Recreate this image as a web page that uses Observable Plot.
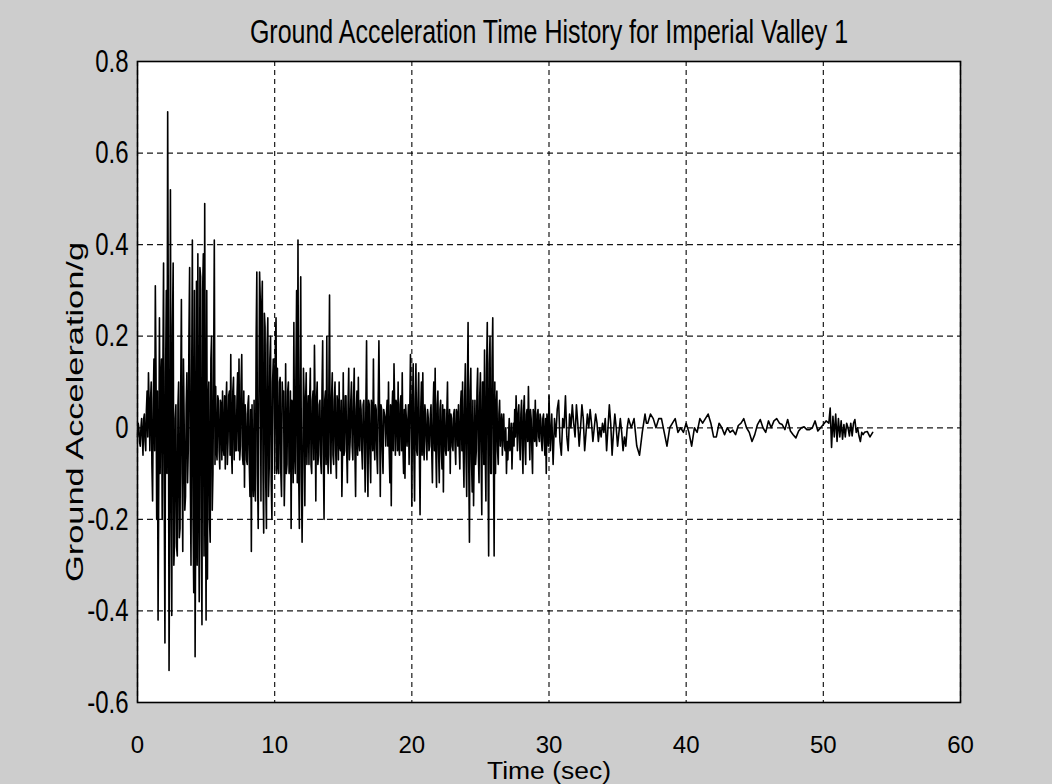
<!DOCTYPE html>
<html><head><meta charset="utf-8">
<script src="https://cdn.jsdelivr.net/npm/d3@7"></script>
<script src="https://cdn.jsdelivr.net/npm/@observablehq/plot@0.6"></script>
<style>
html,body{margin:0;padding:0;background:#cdcdcd;}
#chart{width:1052px;height:784px;}
</style></head><body><div id="chart"></div>
<script>
const title = "Ground Acceleration Time History for Imperial Valley 1";
const xLabel = "Time (sec)";
const yLabel = "Ground Acceleration/g";
const xTicks = [0, 10, 20, 30, 40, 50, 60];
const yTicks = [-0.6, -0.4, -0.2, 0, 0.2, 0.4, 0.6, 0.8];

// [time (s), acceleration (g)] read from the record
const strongPhase = [
[0.0,-0.02],[0.1,0.00],[0.2,-0.04],[0.3,0.02],[0.4,-0.06],[0.5,0.03],[0.6,-0.05],[0.7,0.08],[0.8,0.12],[0.9,-0.05],
[1.0,0.10],[1.1,-0.16],[1.2,0.15],[1.3,0.31],[1.4,-0.20],[1.5,-0.42],[1.6,0.24],[1.7,0.10],[1.8,-0.20],[1.9,0.36],
[2.0,-0.47],[2.1,0.30],[2.2,0.69],[2.3,-0.53],[2.4,0.52],[2.5,-0.41],[2.6,0.36],[2.7,-0.25],[2.8,0.05],[2.9,-0.28],
[3.0,0.10],[3.1,-0.22],[3.2,0.28],[3.3,-0.27],[3.4,0.02],[3.5,-0.15],[3.6,0.12],[3.7,-0.05],[3.8,0.35],[3.9,-0.30],
[4.0,0.41],[4.1,-0.36],[4.2,-0.50],[4.3,0.32],[4.4,0.38],[4.5,-0.38],[4.6,0.33],[4.7,-0.43],[4.8,0.38],[4.9,0.49],
[5.0,-0.42],[5.1,-0.33],[5.2,0.10],[5.3,-0.25],[5.4,0.20],[5.5,-0.10],[5.6,0.41],[5.7,0.09],[5.8,-0.07],[5.9,0.06],
[6.0,-0.09],[6.1,0.05],[6.2,0.08],[6.3,-0.06],[6.4,-0.09],[6.5,0.10],[6.6,-0.03],[6.7,0.08],[6.8,0.16],[6.9,-0.10],
[7.0,0.11],[7.1,0.07],[7.2,-0.05],[7.3,0.12],[7.4,0.15],[7.5,-0.04],[7.6,0.16],[7.7,-0.08],[7.8,-0.13],[7.9,0.03],
[8.0,-0.08],[8.1,0.07],[8.2,-0.15],[8.3,-0.27],[8.4,-0.10],[8.5,0.06],[8.6,-0.16],[8.7,0.34],[8.8,-0.22],[8.9,0.34],
[9.0,-0.16],[9.1,0.32],[9.2,-0.23],[9.3,0.22],[9.4,-0.22],[9.5,0.24],[9.6,-0.09],[9.7,0.20],[9.8,-0.20],[9.9,0.15],
[10.0,-0.10],[10.1,0.24],[10.2,0.13],[10.3,-0.10],[10.4,0.11],[10.5,-0.15],[10.6,0.05],[10.7,-0.17],[10.8,0.14],[10.9,-0.08],
[11.0,0.10],[11.1,-0.08],[11.2,-0.22],[11.3,0.05],[11.4,0.23],[11.5,-0.10],[11.6,0.30],[11.7,0.41],[11.8,-0.22],[11.9,0.33],
[12.0,-0.25],[12.1,0.13],[12.2,-0.17],[12.3,0.12],[12.4,0.02],[12.5,-0.08],[12.6,0.13],[12.7,-0.10],[12.8,0.08],[12.9,0.18],
[13.0,-0.16],[13.1,0.10],[13.2,-0.06],[13.3,0.06],[13.4,-0.10],[13.5,0.19],[13.6,-0.20],[13.7,0.08],[13.8,0.20],[13.9,-0.10],
[14.0,0.29],[14.1,-0.10],[14.2,0.12],[14.3,-0.08],[14.4,0.10],[14.5,-0.11],[14.6,0.05],[14.7,0.10],[14.8,-0.05],[14.9,-0.15]
];
const middlePhase = [
[15.0,0.12],[15.1,-0.05],[15.2,0.07],[15.3,-0.12],[15.4,0.13],[15.5,-0.03],[15.6,0.10],[15.7,-0.07],[15.8,0.13],[15.9,-0.15],
[16.0,0.08],[16.1,0.11],[16.2,-0.05],[16.3,0.04],[16.4,-0.09],[16.5,0.06],[16.6,-0.14],[16.7,0.19],[16.8,-0.15],[16.9,0.05],
[17.0,-0.12],[17.1,0.03],[17.2,0.15],[17.3,-0.07],[17.4,0.04],[17.5,-0.10],[17.6,0.19],[17.7,-0.15],[17.8,0.04],[17.9,-0.10],
[18.0,0.03],[18.1,-0.04],[18.2,0.06],[18.3,0.10],[18.4,-0.12],[18.5,-0.17],[18.6,0.08],[18.7,0.14],[18.8,-0.06],[18.9,0.05],
[19.0,0.10],[19.1,-0.06],[19.2,0.07],[19.3,0.12],[19.4,-0.10],[19.5,-0.11],[19.6,0.02],[19.7,0.00],[19.8,-0.08],[19.9,0.16],
[20.0,-0.17],[20.1,0.14],[20.2,-0.16],[20.3,0.14],[20.4,-0.06],[20.5,0.12],[20.6,-0.19],[20.7,0.10],[20.8,0.12],[20.9,-0.07],
[21.0,0.03],[21.1,-0.07],[21.2,0.02],[21.3,-0.04],[21.4,0.05],[21.5,-0.12],[21.6,0.10],[21.7,0.13],[21.8,-0.13],[21.9,0.08],
[22.0,-0.12],[22.1,0.06],[22.2,-0.09],[22.3,-0.14],[22.4,0.04],[22.5,-0.06],[22.6,0.10],[22.7,-0.04],[22.8,-0.10],[22.9,0.02],
[23.0,-0.05],[23.1,0.04],[23.2,-0.08],[23.3,0.03],[23.4,0.05],[23.5,-0.09],[23.6,0.08],[23.7,0.10],[23.8,-0.13],[23.9,0.14],
[24.0,-0.15],[24.1,0.23],[24.2,-0.25],[24.3,0.13],[24.4,-0.14],[24.5,-0.17],[24.6,0.06],[24.7,-0.05],[24.8,0.13],[24.9,-0.12],
[25.0,0.12],[25.1,-0.19],[25.2,0.10],[25.3,0.17],[25.4,-0.16],[25.5,0.23],[25.6,-0.28],[25.7,0.20],[25.8,-0.10],[25.9,0.24],
[26.0,-0.28],[26.1,-0.10],[26.2,0.08],[26.3,-0.08],[26.4,0.06],[26.5,0.00],[26.6,-0.06],[26.7,0.03],[26.8,-0.05],[26.9,-0.10],
[27.0,-0.07],[27.1,0.02],[27.2,-0.04],[27.3,-0.09],[27.4,0.01],[27.5,0.04],[27.6,0.07],[27.7,-0.05],[27.8,0.05],[27.9,-0.07],
[28.0,0.06],[28.1,-0.10],[28.2,0.07],[28.3,-0.08],[28.4,0.04],[28.5,0.09],[28.6,-0.07],[28.7,0.02],[28.8,-0.10],[28.9,0.03],
[29.0,0.06],[29.1,-0.04],[29.2,0.04],[29.3,-0.03],[29.4,0.02],[29.5,-0.05],[29.6,0.03],[29.7,-0.06],[29.8,-0.10],[29.9,0.01]
];
// in-between samples of the dense (blackened) band of the strong motion
const denseBand = [
[0.05,0.01],[0.15,-0.03],[0.25,0.00],[0.35,-0.02],[0.45,0.02],[0.55,-0.03],[0.65,0.04],[0.75,-0.02],[0.85,0.05],[0.95,0.06],
[1.05,-0.08],[1.15,0.06],[1.25,-0.05],[1.35,0.12],[1.45,0.08],[1.55,-0.12],[1.65,-0.10],[1.75,0.15],[1.85,0.12],[1.95,-0.15],
[2.05,0.12],[2.15,-0.10],[2.25,0.20],[2.35,-0.20],[2.45,-0.05],[2.55,0.22],[2.65,-0.30],[2.75,0.02],[2.85,-0.26],[2.95,0.05],
[3.05,-0.24],[3.15,0.08],[3.25,-0.10],[3.35,0.15],[3.45,-0.18],[3.55,0.05],[3.65,-0.12],[3.75,0.20],[3.85,-0.10],[3.95,0.10],
[4.05,-0.20],[4.15,0.30],[4.25,-0.15],[4.35,-0.30],[4.45,-0.10],[4.55,0.35],[4.65,-0.25],[4.75,0.30],[4.85,-0.28],[4.95,-0.10],
[5.05,0.30],[5.15,0.05],[5.25,-0.20],[5.35,0.15],[5.45,-0.18],[5.55,0.12],[5.65,-0.08],[5.75,-0.05],[5.85,0.07],[5.95,-0.05],
[6.05,0.06],[6.15,-0.07],[6.25,-0.04],[6.35,0.07],[6.45,0.05],[6.55,-0.08],[6.65,0.07],[6.75,-0.06],[6.85,-0.05],[6.95,0.08],
[7.05,-0.07],[7.15,-0.05],[7.25,0.06],[7.35,-0.05],[7.45,-0.07],[7.55,0.10],[7.65,-0.06],[7.75,0.08],[7.85,0.05],[7.95,-0.07],
[8.05,0.05],[8.15,-0.08],[8.25,0.04],[8.35,0.05],[8.45,-0.15],[8.55,-0.12],[8.65,0.20],[8.75,-0.10],[8.85,0.05],[8.95,0.28],
[9.05,0.25],[9.15,-0.10],[9.25,0.25],[9.35,-0.12],[9.45,0.18],[9.55,-0.15],[9.65,0.15],[9.75,-0.12],[9.85,0.10],[9.95,0.12],
[10.05,0.18],[10.15,-0.10],[10.25,-0.08],[10.35,0.10],[10.45,-0.10],[10.55,0.10],[10.65,0.08],[10.75,-0.08],[10.85,-0.10],[10.95,0.08],
[11.05,-0.10],[11.15,0.08],[11.25,0.06],[11.35,-0.12],[11.45,-0.05],[11.55,0.12],[11.65,-0.12],[11.75,-0.10],[11.85,0.10],[11.95,-0.10],
[12.05,-0.08],[12.15,0.06],[12.25,0.05],[12.35,-0.08],[12.45,0.07],[12.55,0.06],[12.65,-0.08],[12.75,0.06],[12.85,-0.07],[12.95,0.05],
[13.05,0.06],[13.15,-0.08],[13.25,0.05],[13.35,-0.07],[13.45,0.08],[13.55,-0.06],[13.65,0.06],[13.75,-0.08],[13.85,-0.05],[13.95,0.08],
[14.05,-0.06],[14.15,0.07],[14.25,-0.06],[14.35,0.06],[14.45,-0.05],[14.55,0.07],[14.65,-0.07],[14.75,-0.04],[14.85,0.06],[14.95,-0.05],
[15.05,-0.06],[15.15,0.07],[15.25,-0.05],[15.35,0.05],[15.45,-0.07],[15.55,0.06],[15.65,-0.04],[15.75,0.06],[15.85,-0.05],[15.95,0.04],
[16.05,-0.06],[16.15,-0.03],[16.25,0.06],[16.35,-0.05],[16.45,0.05],[16.55,-0.04],[16.65,0.05],[16.75,-0.05],[16.85,0.06],[16.95,-0.06],
[17.05,0.06],[17.15,-0.05],[17.25,-0.03],[17.35,0.05],[17.45,-0.06],[17.55,0.06],[17.65,0.03],[17.75,0.05],[17.85,-0.05],[17.95,0.04],
[18.05,0.02],[18.15,0.03],[18.25,-0.04],[18.35,-0.05],[18.45,0.05],[18.55,0.03],[18.65,-0.05],[18.75,0.05],[18.85,0.06],[18.95,-0.05],
[19.05,-0.04],[19.15,0.05],[19.25,-0.05],[19.35,-0.04],[19.45,0.04],[19.55,0.05],[19.65,-0.04],[19.75,0.05],[19.85,0.04],[19.95,0.03],
[20.05,0.05],[20.15,-0.06],[20.25,0.06],[20.35,-0.05],[20.45,0.06],[20.55,-0.05],[20.65,0.04],[20.75,-0.06],[20.85,-0.04],[20.95,0.05],
[21.05,-0.03],[21.15,0.04],[21.25,-0.05],[21.35,0.03],[21.45,-0.05],[21.55,0.04],[21.65,-0.05],[21.75,-0.05],[21.85,0.05],[21.95,-0.05],
[22.05,0.04],[22.15,-0.05],[22.25,0.05],[22.35,0.04],[22.45,-0.05],[22.55,0.03],[22.65,-0.05],[22.75,0.04],[22.85,0.03],[22.95,-0.04],
[23.05,0.03],[23.15,-0.04],[23.25,0.04],[23.35,-0.04],[23.45,-0.04],[23.55,0.05],[23.65,-0.05],[23.75,-0.05],[23.85,0.06],[23.95,-0.06],
[24.05,0.08],[24.15,-0.08],[24.25,0.08],[24.35,-0.07],[24.45,0.06],[24.55,-0.05],[24.65,-0.08],[24.75,0.08],[24.85,-0.06],[24.95,0.07],
[25.05,-0.06],[25.15,0.10],[25.25,-0.08],[25.35,-0.05],[25.45,0.12],[25.55,-0.05],[25.65,0.14],[25.75,-0.10],[25.85,0.15],[25.95,-0.05],
[26.05,0.10],[26.15,0.04],[26.25,-0.05],[26.35,0.03],[26.45,-0.04],[26.55,0.03],[26.65,0.01],[26.75,-0.04],[26.85,0.00],[26.95,-0.03],
[27.05,-0.02],[27.15,-0.05],[27.25,0.01],[27.35,-0.03],[27.45,-0.04],[27.55,-0.02],[27.65,0.02],[27.75,0.03],[27.85,-0.03],[27.95,0.03],
[28.05,-0.04],[28.15,0.04],[28.25,-0.04],[28.35,0.03],[28.45,-0.03],[28.55,0.00],[28.65,0.04],[28.75,-0.05],[28.85,0.04],[28.95,-0.03],
[29.05,-0.02],[29.15,0.03],[29.25,-0.02],[29.35,0.03],[29.45,-0.03],[29.55,0.02],[29.65,-0.03],[29.75,0.02],[29.85,0.03],[29.95,-0.04]
];
const coda = [
[30.0,0.07],[30.1,-0.05],[30.2,0.03],[30.3,-0.08],[30.4,0.02],[30.5,-0.02],[30.6,0.04],[30.7,0.06],[30.8,-0.03],[30.9,-0.06],
[31.0,0.02],[31.1,0.00],[31.2,0.07],[31.3,-0.02],[31.4,-0.05],[31.5,0.03],[31.6,0.00],[31.7,0.05],[31.8,0.01],[31.9,-0.02],
[32.0,0.05],[32.1,0.01],[32.2,-0.04],[32.3,0.00],[32.4,0.05],[32.5,0.02],[32.6,-0.05],[32.7,-0.01],[32.8,0.03],[32.9,0.00],
[33.0,0.04],[33.1,0.01],[33.2,-0.03],[33.3,0.00],[33.4,0.03],[33.5,0.01],[33.6,-0.03],[33.7,0.00],[33.8,-0.02],[33.9,0.01],
[34.0,-0.01],[34.1,0.02],[34.2,-0.05],[34.3,0.00],[34.4,0.05],[34.5,0.01],[34.6,-0.06],[34.7,-0.01],[34.8,0.03],[34.9,0.00],
[35.0,-0.04],[35.1,-0.01],[35.2,0.02],[35.3,-0.01],[35.4,-0.05],[35.5,-0.02],[35.6,-0.04],[35.7,0.00],[35.8,0.02],[35.9,0.01],
[36.0,0.00],[36.2,0.02],[36.3,-0.01],[36.4,-0.04],[36.6,-0.06],[36.8,-0.01],[37.0,0.03],[37.1,0.01],[37.2,0.01],[37.4,0.03],
[37.6,0.02],[37.8,0.00],[38.0,0.02],[38.2,0.02],[38.4,-0.01],[38.6,-0.04],[38.8,0.00],[39.0,0.01],[39.2,0.02],[39.4,-0.01],
[39.6,0.00],[39.8,-0.01],[40.0,0.01],[40.2,-0.01],[40.4,-0.04],[40.6,0.00],[40.8,-0.01],[41.0,0.02],[41.2,0.01],[41.4,0.02],
[41.6,0.03],[41.8,0.01],[42.0,-0.02],[42.2,-0.02],[42.4,0.01],[42.6,0.00],[42.8,-0.015],[43.0,0.00],[43.2,-0.01],[43.4,-0.005],
[43.6,-0.015],[43.8,0.005],[44.0,0.01],[44.2,0.02],[44.4,0.00],[44.6,-0.01],[44.8,-0.03],[45.0,-0.015],[45.2,0.007],[45.4,0.018],
[45.6,0.00],[45.8,-0.01],[46.0,0.015],[46.2,0.00],[46.4,0.015],[46.6,0.02],[46.8,0.01],[47.0,0.007],[47.2,-0.004],[47.4,0.018],
[47.6,-0.007],[47.8,-0.015],[48.0,-0.022],[48.2,-0.007],[48.4,0.00],[48.6,0.002],[48.8,-0.004],[49.0,-0.004],[49.2,0.00],[49.4,0.015],
[49.6,-0.007],[49.8,0.00],[50.0,0.007],[50.2,0.015],[50.4,0.01],[50.5,0.043],[50.6,-0.043],[50.7,0.025],[50.8,-0.02],[50.9,0.03],
[51.0,-0.03],[51.1,0.02],[51.2,-0.02],[51.3,0.015],[51.4,-0.025],[51.5,0.007],[51.6,-0.02],[51.7,0.01],[51.8,0.00],[51.9,-0.018],
[52.0,0.01],[52.1,-0.018],[52.2,0.01],[52.3,0.018],[52.4,-0.01],[52.5,0.00],[52.6,-0.018],[52.7,-0.03],[52.8,-0.01],[52.9,-0.015],
[53.0,-0.01],[53.2,-0.008],[53.4,-0.02],[53.6,-0.01]
];

const record = [...strongPhase, ...middlePhase, ...denseBand, ...coda].sort((a, b) => a[0] - b[0]);
const fmt = d => String(Math.round(d * 10) / 10);
const font = "'Liberation Sans', Arial, sans-serif";

const chart = Plot.plot({
  width: 1052, height: 784,
  marginLeft: 137, marginRight: 92, marginTop: 61, marginBottom: 82,
  style: {background: "transparent", fontFamily: font, fontSize: "24px", color: "black", overflow: "visible"},
  x: {domain: [0, 60]},
  y: {domain: [-0.6, 0.8]},
  marks: [
    Plot.frame({fill: "white"}),
    Plot.gridX(xTicks, {stroke: "black", strokeOpacity: 0.9, strokeWidth: 1.2, strokeDasharray: "5,4"}),
    Plot.gridY(yTicks, {stroke: "black", strokeOpacity: 0.9, strokeWidth: 1.2, strokeDasharray: "6,4"}),
    Plot.line(record, {x: d => d[0], y: d => d[1], stroke: "black", strokeWidth: 1.6}),
    Plot.frame({stroke: "black", strokeWidth: 1.6}),
    Plot.axisX(xTicks, {tickSize: 0, tickPadding: 33, tickFormat: fmt, fontSize: 24, label: null}),
    Plot.axisY(yTicks, {tickSize: 0, tickPadding: 9, tickFormat: fmt, fontSize: 24, label: null}),
    Plot.text([title], {text: d => d, frameAnchor: "top", lineAnchor: "middle", dy: -29, fontSize: 25}),
    Plot.text([xLabel], {text: d => d, frameAnchor: "bottom", lineAnchor: "middle", dy: 69, fontSize: 23}),
    Plot.text([yLabel], {text: d => d, frameAnchor: "left", textAnchor: "middle", lineAnchor: "middle", dx: -62, dy: 30, rotate: -90, fontSize: 24})
  ]
});
document.getElementById("chart").append(chart);

// the reference picture is stretched: stretch the texts about their centres
const k = 1.3;
const svgRect = chart.getBoundingClientRect();
chart.querySelectorAll("text").forEach(t => {
  const m = t.getCTM();
  if (Math.abs(m.b) > 0.5) {           // rotated y label: stretch along its length
    t.setAttribute("textLength", 340);
    t.setAttribute("lengthAdjust", "spacingAndGlyphs");
    return;
  }
  if (t.textContent === xLabel) {      // x label: widen only
    t.setAttribute("textLength", 124);
    t.setAttribute("lengthAdjust", "spacingAndGlyphs");
    return;
  }
  const r = t.getBoundingClientRect();
  const cx = r.x + r.width / 2 - svgRect.x, cy = r.y + r.height / 2 - svgRect.y;
  if (cy > 710) return;
  const p = new DOMPoint(cx, cy).matrixTransform(t.parentNode.getCTM().inverse());
  const g = document.createElementNS("http://www.w3.org/2000/svg", "g");
  g.setAttribute("transform", `translate(${p.x},${p.y}) scale(1,${k}) translate(${-p.x},${-p.y})`);
  t.parentNode.insertBefore(g, t);
  g.appendChild(t);
});
</script></body></html>
